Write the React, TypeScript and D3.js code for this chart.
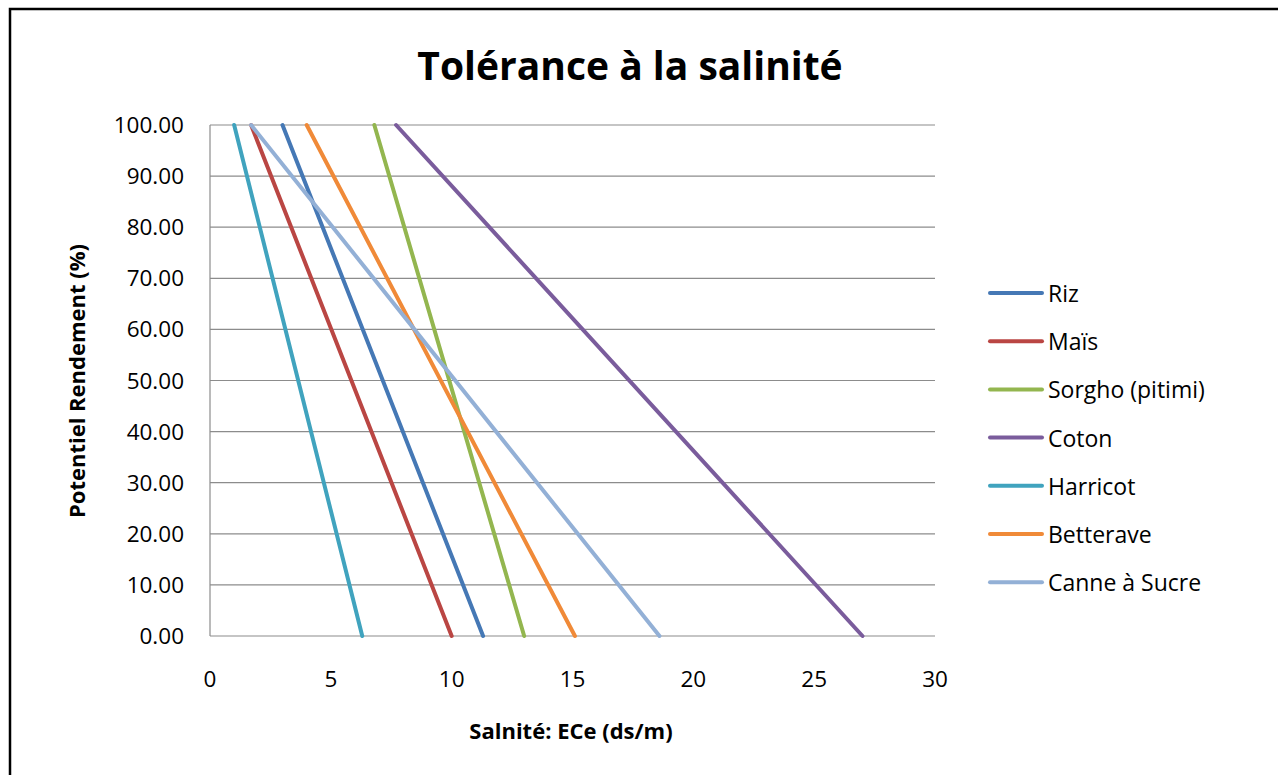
import React from "react";
import * as d3 from "d3";

const seriesNames = ["Riz", "Maïs", "Sorgho (pitimi)", "Coton", "Harricot", "Betterave", "Canne à Sucre"];
const seriesColors = ["#4578B5", "#BA4643", "#93B64F", "#7A5C9C", "#40A3BE", "#F08A38", "#93B0D6"];
// salinity (ECe) at 100% yield and at 0% yield
const ecAt100 = [3.0, 1.7, 6.8, 7.7, 1.0, 4.0, 1.7];
const ecAt0 = [11.3, 10.0, 13.0, 27.0, 6.3, 15.1, 18.6];
const yieldValues = [100, 0];
const xTicks = [0, 5, 10, 15, 20, 25, 30];
const yTicks = [0, 10, 20, 30, 40, 50, 60, 70, 80, 90, 100];

const FONT = "'Open Sans', Lato, sans-serif";

export default function App() {
  const W = 1278, H = 775;
  const x = d3.scaleLinear().domain([0, 30]).range([210, 935]);
  const y = d3.scaleLinear().domain([0, 100]).range([636, 125]);
  const line = d3.line<[number, number]>().x(d => x(d[0])).y(d => y(d[1]));

  return (
    <svg width={W} height={H} style={{ position: "absolute", left: 0, top: 0 }}>
      <rect x={0} y={0} width={W} height={H} fill="#fff" />
      <path d={`M10,${H + 5} L10,9 L${W + 5},9`} fill="none" stroke="#000" strokeWidth={2.5} />
      <text x={630} y={80} textAnchor="middle" fontFamily={FONT} fontWeight="bold" fontSize={39} fill="#000">
        Tolérance à la salinité
      </text>
      {yTicks.map(t => (
        <g key={t}>
          <line x1={210} x2={935} y1={y(t)} y2={y(t)} stroke="#8c8c8c" strokeWidth={1.2} />
          <text x={184} y={y(t) + 8} textAnchor="end" fontFamily={FONT} fontSize={22.5} fill="#000">
            {t.toFixed(2)}
          </text>
        </g>
      ))}
      <line x1={210} x2={210} y1={125} y2={636} stroke="#8c8c8c" strokeWidth={1.2} />
      {xTicks.map(t => (
        <text key={t} x={x(t)} y={687} textAnchor="middle" fontFamily={FONT} fontSize={22.5} fill="#000">
          {t}
        </text>
      ))}
      {seriesNames.map((n, i) => (
        <path
          key={n}
          d={line([[ecAt100[i], yieldValues[0]], [ecAt0[i], yieldValues[1]]]) || ""}
          fill="none"
          stroke={seriesColors[i]}
          strokeWidth={4}
          strokeLinecap="round"
        />
      ))}
      <text x={571} y={739} textAnchor="middle" fontFamily={FONT} fontWeight="bold" fontSize={22} fill="#000">
        Salnité: ECe (ds/m)
      </text>
      <text
        transform="translate(85,381) rotate(-90)"
        textAnchor="middle"
        fontFamily={FONT}
        fontWeight="bold"
        fontSize={22}
        fill="#000"
      >
        Potentiel Rendement (%)
      </text>
      {seriesNames.map((n, i) => {
        const ly = 293 + i * 48.2;
        return (
          <g key={n}>
            <line x1={990} x2={1042} y1={ly} y2={ly} stroke={seriesColors[i]} strokeWidth={4} strokeLinecap="round" />
            <text x={1048} y={ly + 9} fontFamily={FONT} fontSize={23} fill="#000">
              {n}
            </text>
          </g>
        );
      })}
    </svg>
  );
}
